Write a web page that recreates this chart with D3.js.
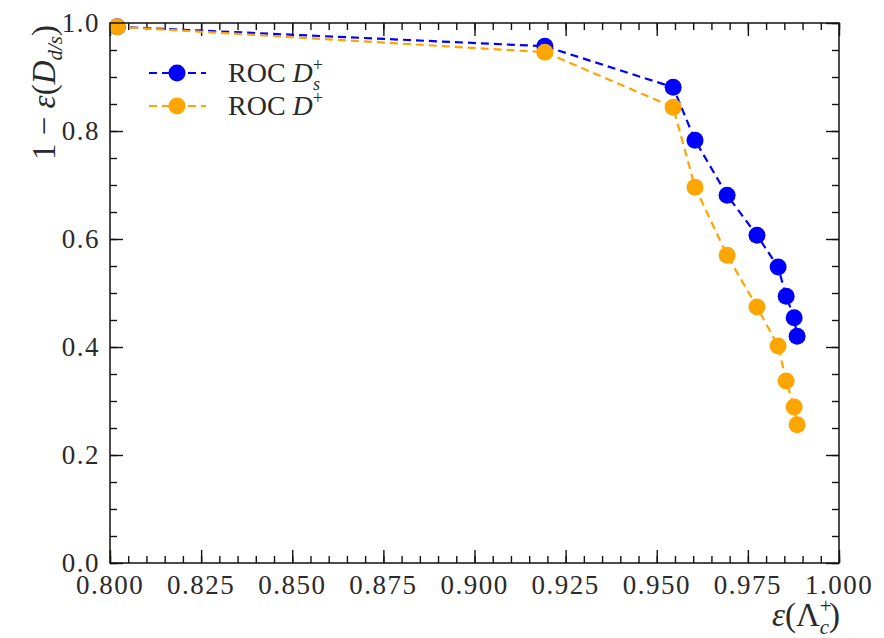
<!DOCTYPE html>
<html>
<head>
<style>
  body { margin: 0; background: #fff; }
  svg text { font-family: "Liberation Serif", "DejaVu Serif", serif; fill: #2a2a2a; }
</style>
<script src="https://d3js.org/d3.v7.min.js"></script>
</head>
<body>
<svg width="884" height="638"></svg>
<script>
// efficiency of Lambda_c+ (x) and background rejection (y)
var effLc  = [0.802, 0.9193, 0.9545, 0.9605, 0.9693, 0.9775, 0.9833, 0.9855, 0.9877, 0.9885];
var rejDs  = [0.993, 0.957, 0.881, 0.783, 0.681, 0.607, 0.548, 0.494, 0.454, 0.420];
var rejDp  = [0.993, 0.946, 0.844, 0.696, 0.570, 0.474, 0.402, 0.337, 0.289, 0.256];
var xTicks = [0.800, 0.825, 0.850, 0.875, 0.900, 0.925, 0.950, 0.975, 1.000];
var yTicks = [0.0, 0.2, 0.4, 0.6, 0.8, 1.0];

var svg = d3.select("svg");
var pLeft = 110, pRight = 839, pTop = 23, pBottom = 563;

var x = d3.scaleLinear().domain([0.8, 1.0]).range([pLeft, pRight]);
var y = d3.scaleLinear().domain([0, 1.0]).range([pBottom, pTop]);

var series = [
  {name: "Ds", color: "#0000ff", vals: rejDs},
  {name: "Dp", color: "#ffa500", vals: rejDp}
];

// inward ticks on all four sides
var xMinor = d3.range(0, 41).map(i => 0.8 + i * 0.005);
var yMinor = d3.range(0, 21).map(i => i * 0.05);

function tickAxis(axisFn, scale, ticks, minor, transform) {
  svg.append("g").attr("transform", transform)
    .call(axisFn(scale).tickValues(minor).tickSize(7).tickFormat(""))
    .call(g => g.select(".domain").remove());
  svg.append("g").attr("transform", transform)
    .call(axisFn(scale).tickValues(ticks).tickSize(13).tickFormat(""))
    .call(g => g.select(".domain").remove());
}
tickAxis(d3.axisTop, x, xTicks, xMinor, "translate(0," + pBottom + ")");
tickAxis(d3.axisBottom, x, xTicks, xMinor, "translate(0," + pTop + ")");
tickAxis(d3.axisRight, y, yTicks, yMinor, "translate(" + pLeft + ",0)");
tickAxis(d3.axisLeft, y, yTicks, yMinor, "translate(" + pRight + ",0)");
svg.selectAll(".tick line").attr("stroke", "#111").attr("stroke-width", 1.4);

// tick labels
svg.append("g").selectAll("text").data(xTicks).join("text")
  .attr("x", d => x(d)).attr("y", 594)
  .attr("text-anchor", "middle").attr("font-size", 27).attr("letter-spacing", 1.5)
  .text(d => d3.format(".3f")(d));
svg.append("g").selectAll("text").data(yTicks).join("text")
  .attr("x", pLeft - 10).attr("y", d => y(d) + 9)
  .attr("text-anchor", "end").attr("font-size", 27).attr("letter-spacing", 1.5)
  .text(d => d3.format(".1f")(d));

// lines and markers
var line = d3.line().x((d, i) => x(effLc[i])).y(d => y(d));
series.forEach(function(s) {
  svg.append("path").datum(s.vals)
    .attr("d", line).attr("fill", "none")
    .attr("stroke", s.color).attr("stroke-width", 2.2)
    .attr("stroke-dasharray", "8,5");
  svg.append("g").selectAll("circle").data(s.vals).join("circle")
    .attr("cx", (d, i) => x(effLc[i])).attr("cy", d => y(d))
    .attr("r", 8.5).attr("fill", s.color);
});

// frame
svg.append("rect").attr("x", pLeft).attr("y", pTop)
  .attr("width", pRight - pLeft).attr("height", pBottom - pTop)
  .attr("fill", "none").attr("stroke", "#111").attr("stroke-width", 1.5);

// small helper: base text followed by sup/sub tspans
function mathLabel(g, parts, size) {
  var t = g.append("text").attr("font-size", size || 28);
  parts.forEach(function(p) {
    var ts = t.append("tspan").text(p.t);
    if (p.it) ts.attr("font-style", "italic");
    if (p.size) ts.attr("font-size", p.size);
    if (p.dy) ts.attr("dy", p.dy);
    if (p.dx) ts.attr("dx", p.dx);
  });
  return t;
}

// legend
var legend = [
  {color: "#0000ff", y: 73, parts: [{t: "ROC "}, {t: "D", it: true}, {t: "+", size: 18, dy: -11}, {t: "s", it: true, size: 18, dx: -10, dy: 19}]},
  {color: "#ffa500", y: 106, parts: [{t: "ROC "}, {t: "D", it: true}, {t: "+", size: 18, dy: -11}]}
];
legend.forEach(function(l) {
  svg.append("line").attr("x1", 149).attr("x2", 206).attr("y1", l.y).attr("y2", l.y)
    .attr("stroke", l.color).attr("stroke-width", 2.2).attr("stroke-dasharray", "8,5");
  svg.append("circle").attr("cx", 177).attr("cy", l.y).attr("r", 8.5).attr("fill", l.color);
  var g = svg.append("g").attr("transform", "translate(228," + (l.y + 9) + ")");
  mathLabel(g, l.parts);
});

// x label
var gx = svg.append("g").attr("transform", "translate(840,626)");
mathLabel(gx, [{t: "ε", it: true}, {t: "(Λ"}, {t: "+", size: 21, dy: -13}, {t: "c", it: true, size: 21, dx: -12, dy: 21}, {t: ")", dy: -8}], 33)
  .attr("text-anchor", "end");

// y label
var gy = svg.append("g").attr("transform", "translate(55,25) rotate(-90)");
mathLabel(gy, [{t: "1 − "}, {t: "ε", it: true}, {t: "(", }, {t: "D", it: true}, {t: "d/s", it: true, size: 21, dy: 7}, {t: ")", dy: -7}], 33)
  .attr("text-anchor", "end");
</script>
</body>
</html>
